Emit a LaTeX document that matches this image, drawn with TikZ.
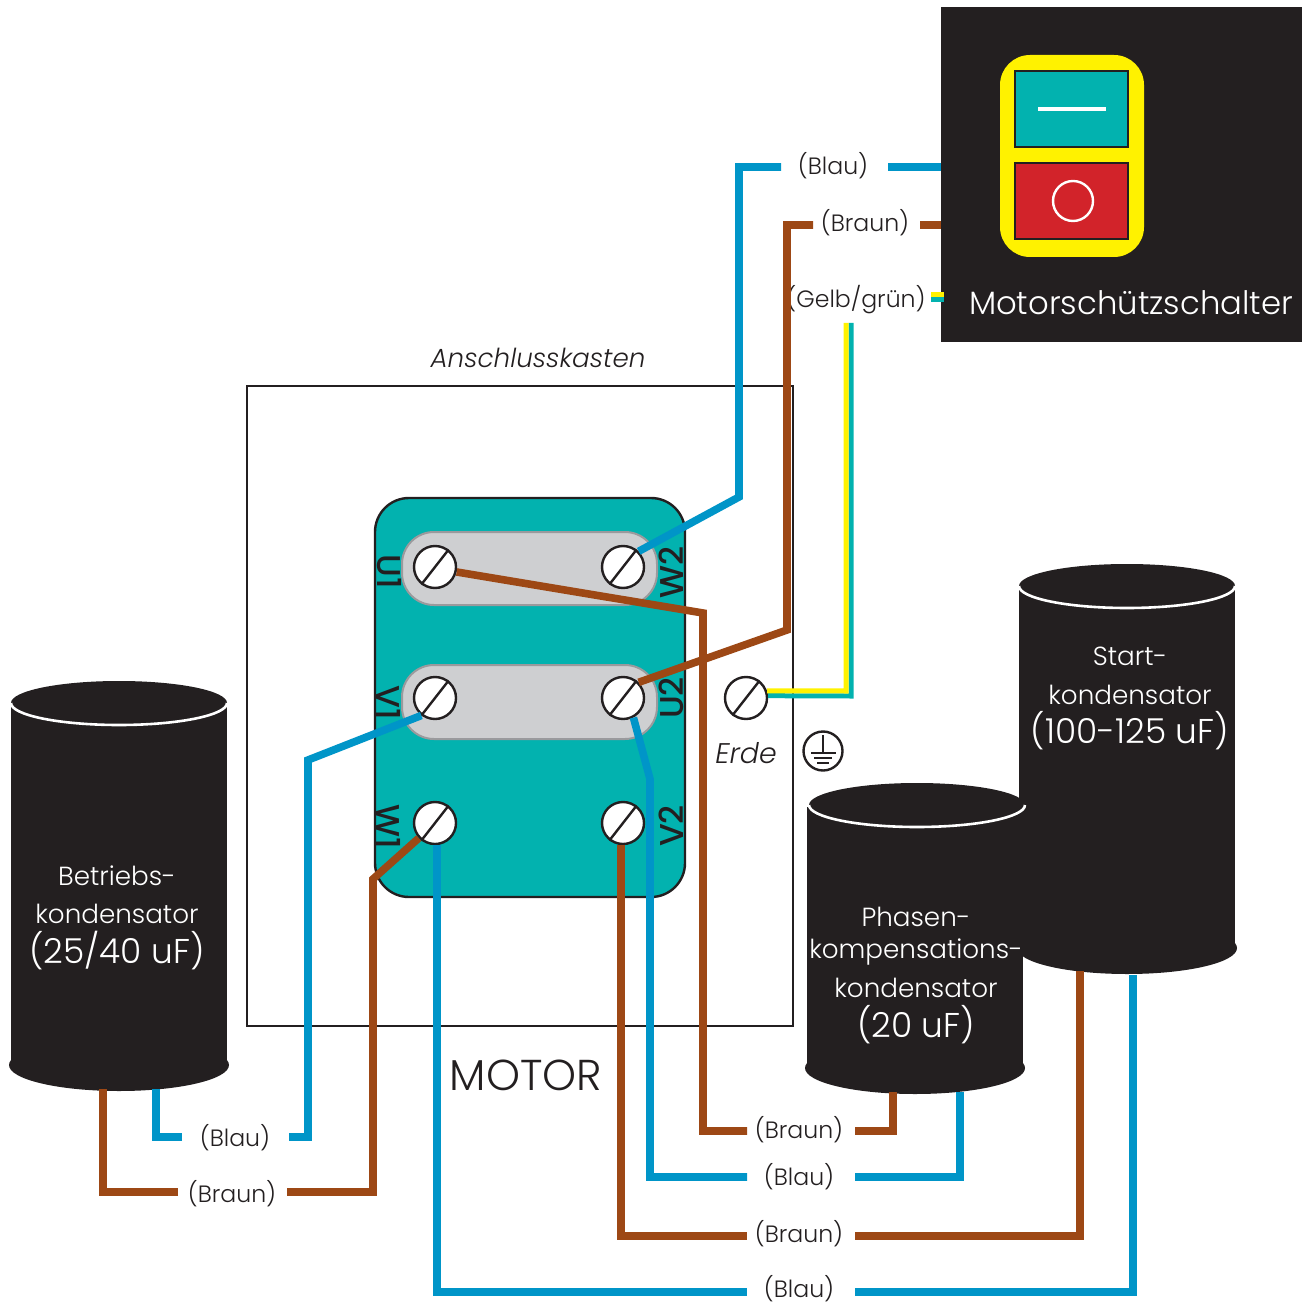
\documentclass[tikz,border=0pt]{standalone}
\usepackage{fontspec}
\setmainfont{Poppins}[UprightFont=* Light,ItalicFont=* Light Italic,BoldFont=* Medium]
\definecolor{inkblack}{HTML}{231F20}
\definecolor{motorteal}{HTML}{02B2AF}
\definecolor{wireblue}{HTML}{0095C8}
\definecolor{wirebrown}{HTML}{9D4815}
\definecolor{earthyellow}{HTML}{FFF200}
\definecolor{stopred}{HTML}{D2232A}
\definecolor{barfill}{HTML}{CECFD1}
\definecolor{baredge}{HTML}{9A9A9D}
\tikzset{
  bluewire/.style={draw=wireblue,line width=3.8pt},
  brownwire/.style={draw=wirebrown,line width=3.8pt},
  yellowwire/.style={draw=earthyellow,line width=2.5pt},
  tealwire/.style={draw=motorteal,line width=2.5pt},
  terminal/.style={circle,draw=inkblack,fill=white,line width=1.2pt,minimum size=21pt,inner sep=0pt},
  bar/.style={fill=barfill,draw=baredge,line width=1pt,rounded corners=16pt},
  wirelabel/.style={text=inkblack,font=\fontsize{11.8}{13}\selectfont,inner sep=0pt},
  pinlabel/.style={text=inkblack,font=\bfseries\fontsize{16.5}{18}\selectfont,inner sep=0pt},
  captext/.style={text=white,font=\fontsize{13.1}{15}\selectfont,inner sep=0pt},
  capvalue/.style={text=white,font=\fontsize{17.2}{19}\selectfont,inner sep=0pt},
  noteitalic/.style={text=inkblack,font=\itshape\fontsize{13.1}{15}\selectfont,inner sep=0pt},
}
\begin{document}
\begin{tikzpicture}[x=.5pt,y=-.5pt]
\useasboundingbox (0,0) rectangle (1302,1304);
% terminal box and motor plate
\draw[inkblack,line width=1.2pt] (247,386) rectangle (793,1026);
\draw[fill=motorteal,draw=inkblack,line width=1.2pt,rounded corners=17pt] (375,498) rectangle (685,897);
\draw[bar] (402,532) rectangle (657,605);
\draw[bar] (402,665) rectangle (657,739);
\node[noteitalic] (boxname) at (538,358) {Anschlusskasten};
\node[text=inkblack,font=\fontsize{21.6}{24}\selectfont,inner sep=0pt] (motorname) at (526,1075) {MOTOR};
%
\node[terminal] (tU1) at (435,567) {};
\node[terminal] (tW2) at (623,567) {};
\node[terminal] (tV1) at (435,698) {};
\node[terminal] (tU2) at (623,698) {};
\node[terminal] (tW1) at (435,823) {};
\node[terminal] (tV2) at (623,823) {};
\node[terminal] (tPE) at (746,698) {};
\foreach \n in {tU1,tW2,tV1,tU2,tW1,tV2,tPE}
  \draw[inkblack,line width=1.2pt] (\n.232) -- (\n.52);
%
\node[pinlabel,rotate=-90] (lU1) at (389,572) {U1};
\node[pinlabel,rotate=-90] (lV1) at (389,703) {V1};
\node[pinlabel,rotate=-90] (lW1) at (389,827) {W1};
\node[pinlabel,rotate=90] (lW2) at (671,572) {W2};
\node[pinlabel,rotate=90] (lU2) at (671,698) {U2};
\node[pinlabel,rotate=90] (lV2) at (671,826) {V2};
% earth
\node[noteitalic,font=\itshape\fontsize{14.2}{16}\selectfont] (erde) at (746,753) {Erde};
\node[circle,draw=inkblack,line width=1.2pt,minimum size=19.5pt,inner sep=0pt] (gnd) at (823,751) {};
\draw[inkblack,line width=1.1pt] (823,735) -- (823,753);
\draw[inkblack,line width=1.1pt] (811,753) -- (836,753);
\draw[inkblack,line width=1.1pt] (814,758) -- (832,758);
\draw[inkblack,line width=1.1pt] (817,763) -- (829,763);
% capacitors
\foreach \bx/\tx/\ty/\by in {1127/1127/586/948,119/119/703/1065,915/917/805/1068}{
  \fill[inkblack] (\bx-108,\ty+2) rectangle (\bx+108,\by);
  \fill[inkblack] (\bx,\by) ellipse[x radius=110,y radius=26];
  \fill[inkblack] (\tx,\ty) ellipse[x radius=108,y radius=22];
  \draw[white,line width=1.3pt] (\tx-108,\ty) arc[start angle=180,end angle=0,x radius=108,y radius=22];
}
\node[captext] (cA1) at (117,876) {Betriebs-};
\node[captext] (cA2) at (117,914) {kondensator};
\node[capvalue] (cA3) at (117,951) {(25/40 uF)};
\node[captext] (cB1) at (1130,656) {Start-};
\node[captext] (cB2) at (1130,695) {kondensator};
\node[capvalue] (cB3) at (1130,731) {(100-125 uF)};
\node[captext] (cC1) at (916,917) {Phasen-};
\node[captext] (cC2) at (916,952) {kompensations-};
\node[captext] (cC3) at (916,988) {kondensator};
\node[capvalue] (cC4) at (916,1025) {(20 uF)};
% switch
\fill[inkblack] (941,7) rectangle (1302,342);
\fill[earthyellow,rounded corners=15pt] (1000,55) rectangle (1144,257);
\draw[fill=motorteal,draw=inkblack,line width=1.2pt] (1015,71) rectangle (1128,147);
\draw[fill=stopred,draw=inkblack,line width=1.2pt] (1015,163) rectangle (1128,239);
\draw[white,line width=2pt] (1038,109) -- (1106,109);
\node[circle,draw=white,line width=1.2pt,minimum size=20pt,inner sep=0pt] (stopmark) at (1073,201) {};
\node[text=white,font=\fontsize{16.15}{18}\selectfont,inner sep=0pt] (switchname) at (1131,303) {Motorschützschalter};
% wire labels
\node[wirelabel] (lbA) at (833,166) {(Blau)};
\node[wirelabel] (lbB) at (865,223) {(Braun)};
\node[wirelabel] (lbC) at (856,300) {(Gelb/grün)};
\node[wirelabel] (lbD) at (235,1138) {(Blau)};
\node[wirelabel] (lbE) at (232,1194) {(Braun)};
\node[wirelabel] (lbF) at (799,1130) {(Braun)};
\node[wirelabel] (lbG) at (799,1177) {(Blau)};
\node[wirelabel] (lbH) at (799,1234) {(Braun)};
\node[wirelabel] (lbJ) at (799,1289) {(Blau)};
% wire corners and free ends
\coordinate (swBlue) at (941,167);
\coordinate (swBrown) at (941,225);
\coordinate (a1) at (739,497);
\coordinate (a2) at (739,167);
\coordinate (a3) at (781,167);
\coordinate (a4) at (888,167);
\coordinate (b1) at (787,630);
\coordinate (b2) at (787,225);
\coordinate (b3) at (813,225);
\coordinate (b4) at (920,225);
\coordinate (f1) at (703,613);
\coordinate (f2) at (703,1131);
\coordinate (f3) at (747,1131);
\coordinate (f4) at (855,1131);
\coordinate (f5) at (893,1131);
\coordinate (f6) at (893,1092);
\coordinate (g1) at (650,779);
\coordinate (g2) at (650,1177);
\coordinate (g3) at (747,1177);
\coordinate (g4) at (855,1177);
\coordinate (g5) at (960,1177);
\coordinate (g6) at (960,1092);
\coordinate (d1) at (308,760);
\coordinate (d2) at (308,1137);
\coordinate (d3) at (289,1137);
\coordinate (d4) at (182,1137);
\coordinate (d5) at (156,1137);
\coordinate (d6) at (156,1089);
\coordinate (e1) at (373,879);
\coordinate (e2) at (373,1192);
\coordinate (e3) at (287,1192);
\coordinate (e4) at (178,1192);
\coordinate (e5) at (103,1192);
\coordinate (e6) at (103,1089);
\coordinate (h2) at (747,1236);
\coordinate (h3) at (855,1236);
\coordinate (h4) at (1080,1236);
\coordinate (h5) at (1080,971);
\coordinate (j2) at (747,1292);
\coordinate (j3) at (855,1292);
\coordinate (j4) at (1133,1292);
\coordinate (j5) at (1133,975);
\coordinate (k1) at (846,691);
\coordinate (k2) at (846,323);
\coordinate (m1) at (851,696);
\coordinate (m2) at (851,323);
% wires
\draw[bluewire] (tW2.45) -- (a1) -- (a2) -- (a3);
\draw[bluewire] (a4) -- (swBlue);
\draw[brownwire] (tU2.45) -- (b1) -- (b2) -- (b3);
\draw[brownwire] (b4) -- (swBrown);
\draw[brownwire] (tU1.-13) -- (f1) -- (f2) -- (f3);
\draw[brownwire] (f4) -- (f5) -- (f6);
\draw[bluewire] (tU2.-62) -- (g1) -- (g2) -- (g3);
\draw[bluewire] (g4) -- (g5) -- (g6);
\draw[bluewire] (tV1.232) -- (d1) -- (d2) -- (d3);
\draw[bluewire] (d4) -- (d5) -- (d6);
\draw[brownwire] (tW1.223) -- (e1) -- (e2) -- (e3);
\draw[brownwire] (e4) -- (e5) -- (e6);
\draw[brownwire] (tV2.-95) |- (h2);
\draw[brownwire] (h3) -- (h4) -- (h5);
\draw[bluewire] (tW1.-85) |- (j2);
\draw[bluewire] (j3) -- (j4) -- (j5);
\draw[tealwire] (tPE.6) -- (m1) -- (m2);
\draw[yellowwire] (tPE.19) -- (k1) -- (k2);
\coordinate (n1) at (931,294.5);
\coordinate (n2) at (944,294.5);
\coordinate (n3) at (931,299.5);
\coordinate (n4) at (944,299.5);
\draw[yellowwire] (n1) -- (n2);
\draw[tealwire] (n3) -- (n4);
\end{tikzpicture}
\end{document}
